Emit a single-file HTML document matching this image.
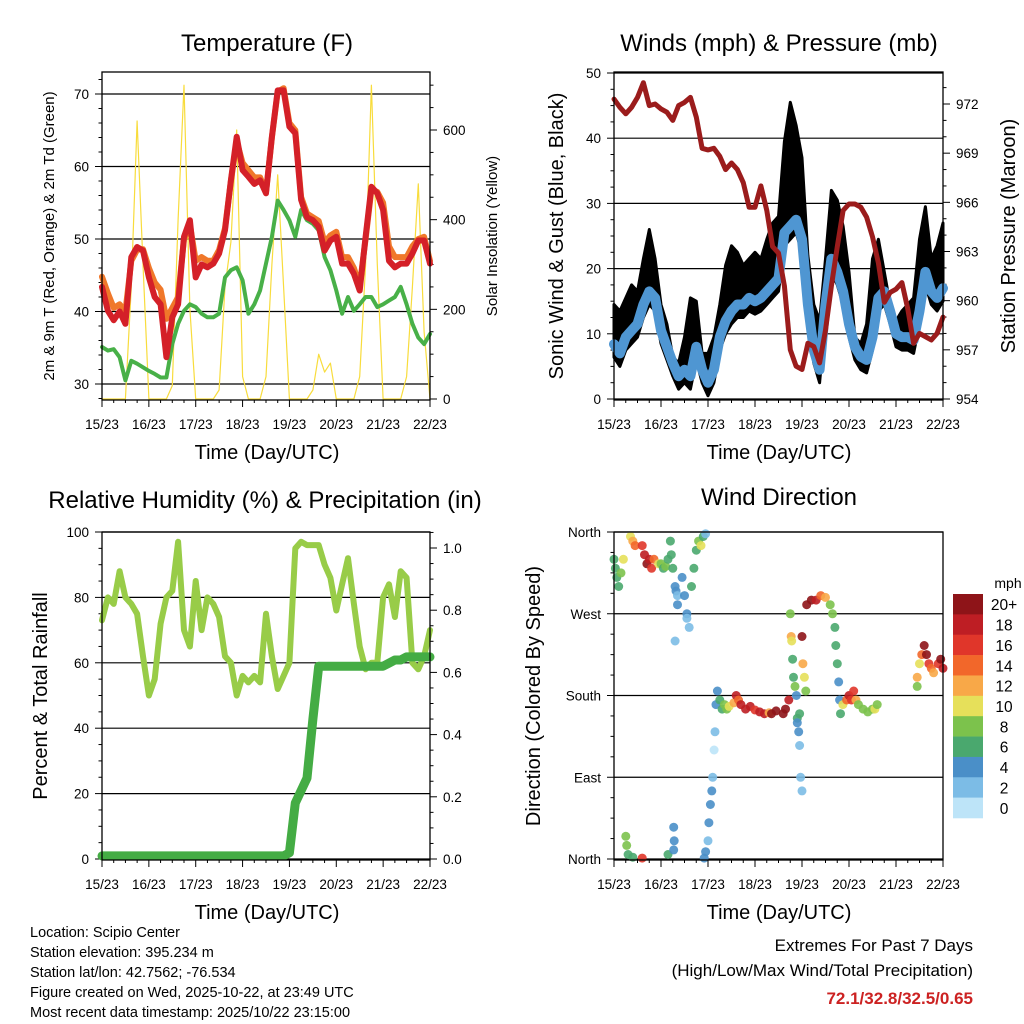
<!DOCTYPE html>
<html><head><meta charset="utf-8"><style>
html,body{margin:0;padding:0;background:#fff;}
svg{display:block;font-family:"Liberation Sans",sans-serif;}
</style></head><body>
<svg id="s" width="1024" height="1024" viewBox="0 0 1024 1024" xmlns="http://www.w3.org/2000/svg">
<rect x="0" y="0" width="1024" height="1024" fill="#fff"/>
</svg>
<script>
// ---------- data (3-hour steps from 15/23 UTC) ----------
const dayLabels = ["15/23","16/23","17/23","18/23","19/23","20/23","21/23","22/23"];
const temp2m = [43.4,40.1,38.8,40,38.3,47.5,48.9,48.4, 44.7,42,41,33.7,39.2,41,50.3,52.6, 44.7,46.5,46.1,46.6,48,51.2,58.1,64.1, 59.5,58.6,57.6,58.1,56.3,64.1,70.5,70.5, 65.5,64.6,55.4,53,52.6,51.7,48.4,49.8, 50.3,46.6,46.6,45.2,42.9,50.3,57.2,56.3, 54,47,46.1,46.6,46.6,48,49.8,49.8, 46.6];
const temp9m = [44.8,42.5,40.5,41,40,47,48.5,48.6, 46,44,43,39,40.5,42,50,52, 47,47.5,47,47,48.5,51.5,58,63.5, 60.5,59.5,58.5,58.5,56.5,64,70.3,70.8, 66,65,55.8,53.5,53,52.5,49.5,50.5, 51,47.5,47.5,46,43.5,50,56.8,56.5, 55,49,47.5,47.5,47.5,49,50,50.3, 47];
const dewpoint = [35.1,34.6,34.8,33.7,30.5,33.2,32.8,32.3, 31.8,31.4,30.9,30.9,35.5,38.3,40.1,41, 40.6,39.7,39.2,39.2,39.7,44.7,45.7,46.1, 44.3,39.7,41,42.9,46.6,50.3,55.3,54, 52.6,50.3,54,52.6,52.1,51.2,47.5,45.7, 42.9,39.7,42,40.1,41,42,42,40.6, 41,41.5,42,43.4,41,38.3,36.4,35.5, 36.9];
const solar = [0,0,0,0,0,250,620,300, 0,0,0,0,30,400,700,200, 0,0,0,0,20,250,350,600, 50,0,0,0,50,300,500,250, 0,0,0,0,20,100,60,80, 0,0,0,0,50,300,700,300, 0,0,0,0,50,250,480,150, 0];
const windSpeed = [8.4,7,9.5,10.5,11.5,14.5,16.5,15.5, 10.5,8,5.5,3.5,4.5,3.5,8,4.5, 2.5,4.5,9.5,12,13.5,14.5,14.5,15.5, 15,15.5,16.5,17.5,18.5,25.5,26.5,27.5, 24.5,14.5,7.5,4.5,14.5,21.5,19.5,16.5, 11.5,8,6.5,6,9.5,15.5,16.5,13.5, 10,9.5,9.5,9,13.5,19.5,16.5,15.5, 17];
const windGust = [14.5,13.5,15.5,17.5,16.5,21.5,26,21.5, 14.5,11.5,6.5,5.5,9.5,15.5,15,7, 7,9.5,14.5,20.5,23.5,22.5,20.5,21.5, 22.5,21.5,24.5,27,28,39.5,45.5,42, 37,22,14.5,12,21.5,32,30.5,26.5, 19.5,9.5,8.5,11.5,21.5,24.5,19.5,14.5, 12,13.5,14.5,15.5,24.5,29.5,21.5,23.5, 27];
const pressure = [972.3,971.8,971.4,971.8,972.4,973.3,971.9,972, 971.7,971.5,971,971.9,972.1,972.4,971.2,969.3, 969.2,969.3,968.8,968,968.4,968,967.2,965.7, 965.7,967,965.5,963.3,962.9,960.9,957,956, 955.8,957.4,957.2,956.2,958.2,960.9,963.3,965.5, 965.9,965.9,965.7,965.1,963.9,962.3,959.9,960.5, 960.7,961.1,959.5,957.4,958,957.8,957.6,958, 959];
const humidity = [73,80,78,88,80,78,75,62, 50,55,72,80,82,97,70,65, 85,70,80,78,74,62,60,50, 56,54,56,54,75,62,52,56, 60,95,97,96,96,96,90,86, 76,84,92,78,65,58,60,60, 80,84,74,88,86,60,58,62, 70];
const rainTotal = [0.01,0.01,0.01,0.01,0.01,0.01,0.01,0.01, 0.01,0.01,0.01,0.01,0.01,0.01,0.01,0.01, 0.01,0.01,0.01,0.01,0.01,0.01,0.01,0.01, 0.01,0.01,0.01,0.01,0.01,0.01,0.01,0.01, 0.02,0.18,0.22,0.26,0.45,0.62,0.62,0.62, 0.62,0.62,0.62,0.62,0.62,0.62,0.62,0.62, 0.62,0.63,0.64,0.64,0.65,0.65,0.65,0.65, 0.65];
const dirDays = [0,0.03,0.06,0.1,0.15,0.2,0.35,0.4,0.45,0.6,0.65,0.7,0.75,0.8,0.85,0.95,1.0,1.05,1.1,1.15,1.2,1.22,1.25,1.3,1.32,1.35,1.3,1.35,1.45,1.5,1.55,1.55,1.6,1.65,1.7,1.75,1.8,1.85,1.9,1.95,0.25,0.27,0.3,0.4,0.6,1.15,1.27,1.28,1.27,1.92,1.95,2.0,2.02,2.05,2.08,2.1,2.13,2.15,2.17,2.2,2.25,2.3,2.35,2.4,2.45,2.55,2.6,2.65,2.7,2.8,2.9,3.0,3.1,3.2,3.3,3.35,3.45,3.6,3.65,3.72,3.75,3.77,3.78,3.8,3.82,3.85,3.88,3.9,3.9,3.93,3.95,3.97,4.0,3.95,4.0,4.02,4.05,4.08,4.1,4.2,4.3,4.4,4.5,4.6,4.65,4.7,4.72,4.75,4.78,4.8,4.82,4.87,4.95,5.0,5.05,5.1,5.15,5.2,5.3,5.4,5.5,5.55,5.6,6.45,6.5,6.55,6.6,6.65,6.7,6.75,6.8,6.9,6.95,7.0,6.45];
const dirValues = [330,320,310,300,315,330,355,350,345,345,335,325,330,320,330,325,325,320,322,330,350,335,320,300,295,290,240,280,310,290,270,265,255,300,320,340,350,345,355,358,25,15,5,2,1,5,35,20,10,1,8,20,40,60,75,90,120,140,170,185,175,165,170,165,168,172,180,175,170,165,168,164,162,160,161,160,163,160,165,175,270,245,240,220,200,190,180,155,150,140,125,90,75,160,245,215,200,185,280,285,285,290,288,280,270,255,235,215,195,175,160,170,175,180,175,185,175,170,165,162,165,165,170,200,215,225,235,225,215,210,205,215,220,210,190];
const dirSpeeds = [7,6,6,6,8,10,10,12,14,16,18,20,18,16,14,10,8,6,8,6,6,6,6,4,4,3,2,4,4,4,4,3,3,6,6,6,8,10,6,3,9,8,6,6,16,6,4,4,4,4,4,3,4,4,5,2,1,2,4,4,6,7,8,8,10,12,18,14,18,18,18,16,18,18,12,20,20,20,20,18,8,12,10,6,6,8,4,6,4,4,2,2,2,6,20,12,10,8,20,20,18,14,12,8,8,6,6,6,4,4,6,10,14,18,16,16,12,8,8,8,8,10,8,12,10,14,20,20,16,14,12,16,20,18,8];
const speedLabels = ["20+","18","16","14","12","10","8","6","4","2","0"];
const speedColors = ["#8e1418","#be1e24","#e0362a","#f2672a","#f8a848","#e6e05a","#7cc24c","#4aa86e","#4a8fc8","#7cbce6","#bde4f8"];

// ---------- helpers ----------
const NS = "http://www.w3.org/2000/svg";
const S = document.getElementById("s");
function el(tag, attrs, parent, txt){
  const e = document.createElementNS(NS, tag);
  for (const k in attrs) e.setAttribute(k, attrs[k]);
  if (txt !== undefined) e.textContent = txt;
  (parent || S).appendChild(e);
  return e;
}
function mkScale(d0, d1, r0, r1){ return v => r0 + (v - d0) * (r1 - r0) / (d1 - d0); }
function pts(vals, xs, ys, xsrc){ return vals.map((v,i)=> xs(xsrc ? xsrc[i] : i/8).toFixed(1)+","+ys(v).toFixed(1)).join(" "); }

function panel(name){
  const g = el("g", {});
  
  
  return g;
}
function frame(g, L, T, R, B){
  const f = el("rect", {x:L, y:T, width:R-L, height:B-T, fill:"none", stroke:"#000", "stroke-width":1.3}, g);
  
  
}
function xAxis(g, xs, B, cx){
  for (let d = 0; d < 7; d += 0.25){
    const major = Math.abs(d - Math.round(d)) < 1e-6;
    el("line", {x1:xs(d), x2:xs(d), y1:B, y2:B+(major?7:3), stroke:"#000","stroke-width":1}, g);
  }
  el("line", {x1:xs(7), x2:xs(7), y1:B, y2:B+7, stroke:"#000","stroke-width":1}, g);
  dayLabels.forEach((lab,i)=>{
    const t = el("text", {x:xs(i), y:B+29, "font-size":13.5, "text-anchor":"middle"}, g, lab);
    
    
  });
  const tt = el("text", {x:cx, y:B+59, "font-size":20, "text-anchor":"middle"}, g, "Time (Day/UTC)");
  
  
}
function yTicks(g, ticks, minor, ys, x, side, labels, L, R, grid){
  const dir = side === "left" ? -1 : 1;
  minor.forEach(v=> el("line", {x1:x, x2:x+dir*3.5, y1:ys(v), y2:ys(v), stroke:"#000","stroke-width":1}, g));
  ticks.forEach((v,i)=>{
    el("line", {x1:x, x2:x+dir*7, y1:ys(v), y2:ys(v), stroke:"#000","stroke-width":1}, g);
    if (grid) {
      const gl = el("line", {x1:L, x2:R, y1:ys(v), y2:ys(v), stroke:"#000","stroke-width":1.2}, g);
      
      
    }
    const t = el("text", {x:x+dir*13, y:ys(v)+5, "font-size":13.5, "text-anchor": side==="left"?"end":"start"}, g, labels[i]);
    
    
  });
}
function title(g, x, y, txt, size){
  const t = el("text", {x:x, y:y, "font-size":size||24, "text-anchor":"middle"}, g, txt);
  
  
}
function vtitle(g, x, y, txt, size, name){
  const t = el("text", {x:x, y:y, "font-size":size, "text-anchor":"middle", transform:"rotate(-90 "+x+" "+y+")"}, g, txt);
  
  
}
function series(g, vals, xs, ys, color, w, name, xsrc){
  const p = el("polyline", {points:pts(vals, xs, ys, xsrc), fill:"none", stroke:color, "stroke-width":w, "stroke-linejoin":"round", "stroke-linecap":"round"}, g);
  
  
  return p;
}
function range(a,b,s){ const r=[]; for(let v=a; v<=b+1e-9; v+=s) r.push(+v.toFixed(4)); return r; }

// ---------- Panel 1: Temperature ----------
(function(){
  const L=102,T=72,R=430,B=400;
  const g = panel("temperature-panel");
  const xs = mkScale(0,7,L,R);
  const ys = mkScale(30,70,384,94);
  const yr = mkScale(0,600,399,130);
  title(g, 267, 51, "Temperature (F)");
  yTicks(g, [30,40,50,60,70], range(28,72,2).filter(v=>v%10!==0), ys, L, "left", ["30","40","50","60","70"], L, R, true);
  yTicks(g, [0,200,400,600], range(0,700,50).filter(v=>v%200!==0), yr, R, "right", ["0","200","400","600"], L, R, false);
  series(g, solar, xs, yr, "#f8dc3c", 1.2, "solar-insolation-line");
  series(g, dewpoint, xs, ys, "#48b048", 4, "dewpoint-line");
  series(g, temp9m, xs, ys, "#f0782a", 6, "temp-9m-line");
  series(g, temp2m, xs, ys, "#d42028", 6, "temp-2m-line");
  frame(g, L,T,R,B);
  xAxis(g, xs, B, 267);
  vtitle(g, 54, 236, "2m & 9m T (Red, Orange) & 2m Td (Green)", 15, "y-axis-title-left");
  vtitle(g, 497, 236, "Solar Insolation (Yellow)", 15, "y-axis-title-right");
})();

// ---------- Panel 2: Winds & Pressure ----------
(function(){
  const L=614,T=72,R=943,B=400;
  const g = panel("winds-panel");
  const xs = mkScale(0,7,L,R);
  const ys = mkScale(0,50,399,73);
  const yp = mkScale(954,972,399,104);
  title(g, 779, 51, "Winds (mph) & Pressure (mb)");
  yTicks(g, [0,10,20,30,40,50], range(0,50,2.5).filter(v=>v%10!==0), ys, L, "left", ["0","10","20","30","40","50"], L, R, true);
  yTicks(g, [954,957,960,963,966,969,972], range(954,973,1).filter(v=>(v-954)%3!==0), yp, R, "right", ["954","957","960","963","966","969","972"], L, R, false);
  const top = windGust.map((v,i)=> xs(i/8).toFixed(1)+","+ys(v).toFixed(1));
  const bot = windSpeed.map((v,i)=> xs(i/8).toFixed(1)+","+ys(Math.max(v-2,0)).toFixed(1)).reverse();
  const band = el("polygon", {points: top.concat(bot).join(" "), fill:"#000", stroke:"#000", "stroke-width":3, "stroke-linejoin":"round"}, g);
  
  
  series(g, windSpeed, xs, ys, "#4f96d2", 10, "wind-speed-line");
  series(g, pressure, xs, yp, "#9b1c1c", 5, "pressure-line");
  frame(g, L,T,R,B);
  xAxis(g, xs, B, 779);
  vtitle(g, 563, 236, "Sonic Wind & Gust (Blue, Black)", 20, "y-axis-title-left");
  vtitle(g, 1015, 236, "Station Pressure (Maroon)", 20, "y-axis-title-right");
})();

// ---------- Panel 3: RH & Precip ----------
(function(){
  const L=102,T=532,R=430,B=860;
  const g = panel("humidity-panel");
  const xs = mkScale(0,7,L,R);
  const ys = mkScale(0,100,859,532);
  const yr = mkScale(0,1,859,548);
  title(g, 265, 508, "Relative Humidity (%) & Precipitation (in)");
  yTicks(g, [0,20,40,60,80,100], range(0,100,5).filter(v=>v%20!==0), ys, L, "left", ["0","20","40","60","80","100"], L, R, true);
  yTicks(g, [0,0.2,0.4,0.6,0.8,1.0], range(0,1.05,0.05).filter(v=>Math.round(v*100)%20!==0), yr, R, "right", ["0.0","0.2","0.4","0.6","0.8","1.0"], L, R, false);
  series(g, humidity, xs, ys, "#98cc48", 6, "humidity-line");
  series(g, rainTotal, xs, yr, "#44ac44", 9, "precip-line");
  frame(g, L,T,R,B);
  xAxis(g, xs, B, 267);
  vtitle(g, 47, 696, "Percent & Total Rainfall", 20, "y-axis-title-left");
})();

// ---------- Panel 4: Wind direction ----------
(function(){
  const L=614,T=532,R=943,B=860;
  const g = panel("wind-direction-panel");
  const xs = mkScale(0,7,L,R);
  const ys = mkScale(0,360,859,532);
  title(g, 779, 505, "Wind Direction");
  yTicks(g, [0,90,180,270,360], range(0,360,22.5).filter(v=>v%90!==0), ys, L, "left", ["North","East","South","West","North"], L, R, true);
  dirValues.forEach((v,i)=>{
    const sp = dirSpeeds[i];
    const bin = Math.min(10, Math.floor(sp/2));
    const c = el("circle", {cx:xs(dirDays[i]).toFixed(1), cy:ys(v).toFixed(1), r:4.5, fill:speedColors[10-bin], "fill-opacity":0.9}, g);
    
    
  });
  frame(g, L,T,R,B);
  xAxis(g, xs, B, 779);
  vtitle(g, 540, 696, "Direction (Colored By Speed)", 20, "y-axis-title-left");
  const cb = el("g", {}, S);
  
  
  const h = 224/11;
  speedColors.forEach((col,i)=>{
    el("rect", {x:953, y:594+i*h, width:30, height:h+0.3, fill:col}, cb);
    const t = el("text", {x:1004, y:594+i*h+h/2+6, "font-size":15.5, "text-anchor":"middle"}, cb, speedLabels[i]);
    
    
  });
  const m = el("text", {x:1008, y:588, "font-size":14, "text-anchor":"middle"}, cb, "mph");
  
  
})();

// ---------- footer text ----------
const info = ["Location: Scipio Center","Station elevation: 395.234 m","Station lat/lon: 42.7562; -76.534","Figure created on Wed, 2025-10-22, at 23:49 UTC","Most recent data timestamp: 2025/10/22 23:15:00"];
info.forEach((s,i)=>{
  const t = el("text", {x:30, y:937+i*20, "font-size":14.5}, S, s);
  
  
});
const e1 = el("text", {x:973, y:951, "font-size":17, "text-anchor":"end"}, S, "Extremes For Past 7 Days");


const e2 = el("text", {x:973, y:976, "font-size":17, "text-anchor":"end"}, S, "(High/Low/Max Wind/Total Precipitation)");


const e3 = el("text", {x:973, y:1004, "font-size":17, "font-weight":"bold", fill:"#cc2222", "text-anchor":"end"}, S, "72.1/32.8/32.5/0.65");


</script>
</body></html>
